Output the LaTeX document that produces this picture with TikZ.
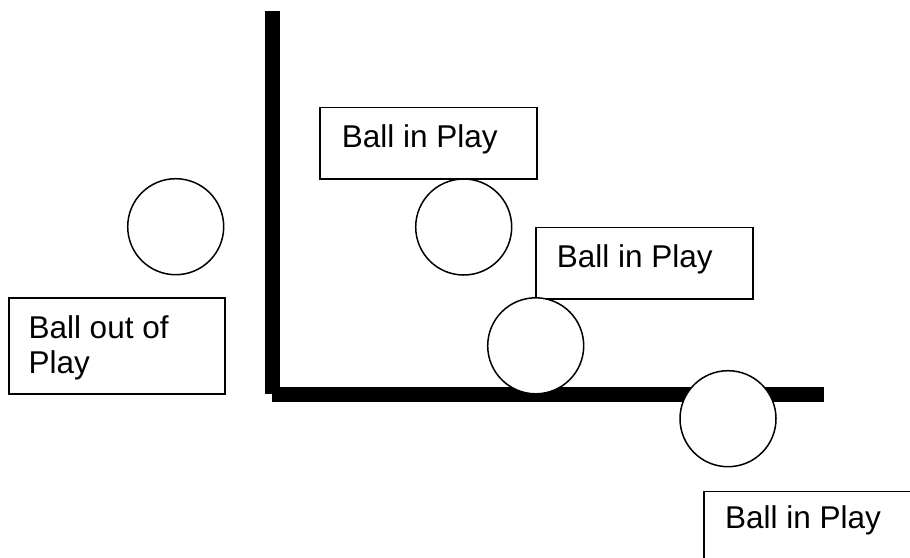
\documentclass[tikz,border=0pt]{standalone}
\usepackage{fontspec}
\setmainfont{Liberation Sans}
\begin{document}
\begin{tikzpicture}[x=1pt,y=-1pt,
  bar/.style={line width=15pt,line cap=butt},
  ball/.style={circle,draw,line width=1.5pt,fill=white,minimum size=96pt,inner sep=0pt},
  tbox/.style={rectangle,draw,line width=1.5pt,fill=white,anchor=north west,inner sep=0pt},
  caption/.style={anchor=base west,inner sep=0pt,font=\fontsize{31.5}{35}\selectfont,align=left}]
\useasboundingbox (0,0) rectangle (910,557);
\clip (0,0) rectangle (910,557);

% the two walls of the field
\coordinate (wtop) at (272.5,11);
\coordinate (wcorner) at (272.5,394.5);
\coordinate (wend) at (824,394.5);
\draw[bar] (wtop) -- (272.5,394);
\draw[bar] (272,394.5) -- (wend);

% labelled boxes
\node[tbox,minimum width=217pt,minimum height=71.5pt] (b1) at (319.3,106.7) {};
\node[caption] (t1) at (341.7,147) {Ball in Play};
\node[tbox,minimum width=217pt,minimum height=71.5pt] (b2) at (535.3,226.7) {};
\node[caption] (t2) at (556.7,267.3) {Ball in Play};
\node[tbox,minimum width=215.7pt,minimum height=96pt] (b3) at (8.3,297.3) {};
\node[caption] (t3) at (28.3,373.3) {Ball out of\\Play};
\node[tbox,minimum width=230pt,minimum height=90pt] (b4) at (703.3,490.7) {};
\node[caption] (t4) at (725,528) {Ball in Play};

% balls
\node[ball] (c1) at (175.7,226.7) {};
\node[ball] (c2) at (463.7,227) {};
\node[ball] (c3) at (535.7,345.8) {};
\node[ball] (c4) at (728,418.7) {};
\end{tikzpicture}
\end{document}
